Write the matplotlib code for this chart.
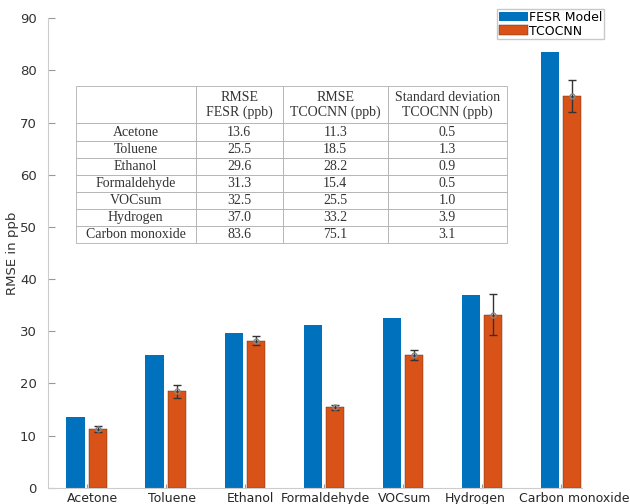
import numpy as np
import matplotlib
matplotlib.use('Agg')
from matplotlib import pyplot as plt
from matplotlib import transforms

# values as listed in the inset table
gases = ['Acetone', 'Toluene', 'Ethanol', 'Formaldehyde', 'VOCsum',
         'Hydrogen', 'Carbon monoxide']
rmse_fesr = [13.6, 25.5, 29.6, 31.3, 32.5, 37.0, 83.6]
rmse_tcocnn = [11.3, 18.5, 28.2, 15.4, 25.5, 33.2, 75.1]
std_tcocnn = [0.5, 1.3, 0.9, 0.5, 1.0, 3.9, 3.1]

blue = '#0072BD'
orange = '#D95319'

fig = plt.figure(figsize=(6.3, 5.04), dpi=100)
ax = fig.add_axes([0.076, 0.032, 0.848, 0.932])

x = np.arange(len(gases))
w = 0.23
off = 0.14
b1 = ax.bar(x - off, rmse_fesr, w, color=blue, label='FESR Model')
b2 = ax.bar(x + off, rmse_tcocnn, w, color=orange, label='TCOCNN',
            edgecolor='#5a2a10', linewidth=0.3)
ax.errorbar(x + off, rmse_tcocnn, yerr=std_tcocnn, fmt='o', color='#222222',
            ecolor='#333333', elinewidth=1, capsize=3, capthick=1,
            markersize=3.5, mfc='none', mec='#888888', zorder=3)

ax.set_xlim(-0.49, 6.27)
ax.set_ylim(0, 90)
ax.set_yticks(range(0, 91, 10))
ax.set_xticks(x)
ax.set_xticklabels(gases, fontsize=9, color='#262626')
ax.tick_params(axis='x', direction='in', length=3, color='#999999', pad=3)
ax.tick_params(axis='y', direction='in', length=5, color='#999999',
               labelsize=9.5, labelcolor='#333333', pad=8)
# the labels in the original sit a bit off their ticks
shifts = [6, 6, 6, 2, 2, -7, 13]
for lab, dx in zip(ax.get_xticklabels(), shifts):
    lab.set_transform(lab.get_transform() +
                      transforms.ScaledTranslation(dx / 100, 0, fig.dpi_scale_trans))
for s in ['top', 'right']:
    ax.spines[s].set_visible(False)
for s in ['left', 'bottom']:
    ax.spines[s].set_color('#cccccc')
ax.set_ylabel('RMSE in ppb', fontsize=9.5, color='#333333', labelpad=1)

fig.legend(handles=[b1, b2], loc='upper left', bbox_to_anchor=(0.789, 0.982),
           fontsize=9, frameon=True, fancybox=False, edgecolor='#bbbbbb',
           handlelength=2.3, handleheight=0.8, handletextpad=0.1,
           borderpad=0.15, labelspacing=0.05, borderaxespad=0)

# inset table
header = ['', 'RMSE\nFESR (ppb)', 'RMSE\nTCOCNN (ppb)',
          'Standard deviation\nTCOCNN (ppb)']
rows = [[g, f'{a:.1f}', f'{b:.1f}', f'{c:.1f}']
        for g, a, b, c in zip(gases, rmse_fesr, rmse_tcocnn, std_tcocnn)]
col_w = [120, 87, 105, 119]
tw = sum(col_w)
tab = ax.table(cellText=[header] + rows, cellLoc='center',
               colWidths=[c / tw for c in col_w],
               bbox=[0.052, 0.521, 0.807, 0.334])
tab.auto_set_font_size(False)
for (r, c), cell in tab.get_celld().items():
    cell.set_edgecolor('#b0b0b0')
    cell.set_linewidth(0.6)
    cell.set_facecolor('white')
    cell.get_text().set_fontfamily('Liberation Serif')
    cell.get_text().set_fontsize(10)
    cell.get_text().set_color('#333333')
    cell.set_height(37 / 156 if r == 0 else 17 / 156)

fig.savefig('out.png', dpi=100)
